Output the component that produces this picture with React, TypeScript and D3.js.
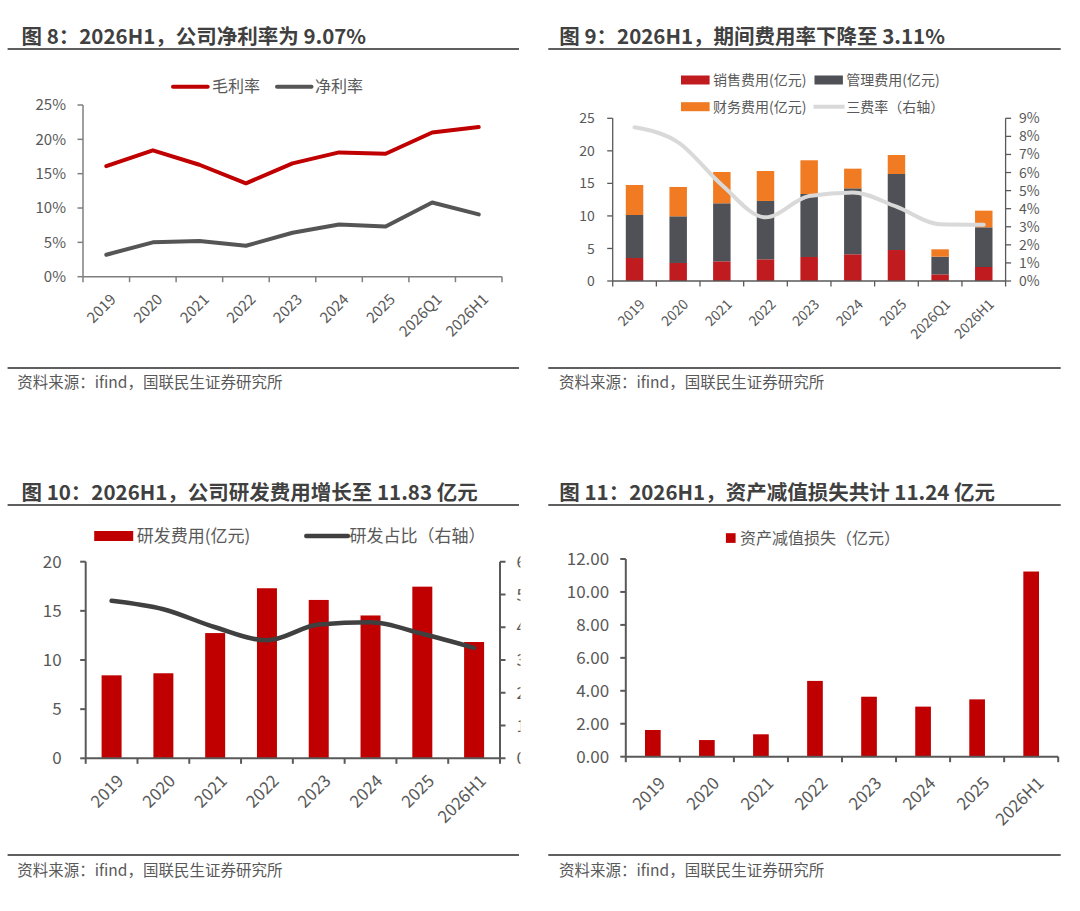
// 四图联排：利润率 / 期间费用 / 研发费用 / 资产减值
import React from 'react';
import * as d3 from 'd3';

const FONT = '"Noto Sans CJK SC", "Noto Sans", sans-serif';
const TEXT = '#595959';

// 图8 数据
const periods9 = ['2019', '2020', '2021', '2022', '2023', '2024', '2025', '2026Q1', '2026H1'];
const grossMargin = [16.1, 18.4, 16.3, 13.6, 16.5, 18.1, 17.9, 21.0, 21.8];
const netMargin = [3.2, 5.0, 5.2, 4.5, 6.4, 7.6, 7.3, 10.8, 9.07];
const marginTicks = [0, 5, 10, 15, 20, 25];

// 图9 数据
const salesExp = [3.53, 2.77, 3.02, 3.33, 3.69, 4.10, 4.76, 1.02, 2.15];
const adminExp = [6.61, 7.17, 8.92, 8.97, 9.68, 10.14, 11.68, 2.72, 6.10];
const finExp = [4.61, 4.51, 4.81, 4.60, 5.18, 3.02, 2.92, 1.13, 2.56];
const expRate = [8.5, 7.67, 5.31, 3.52, 4.7, 4.9, 4.11, 3.14, 3.11];
const expTicks = [0, 5, 10, 15, 20, 25];
const rateTicks = [0, 1, 2, 3, 4, 5, 6, 7, 8, 9];

// 图10 数据
const periods8 = ['2019', '2020', '2021', '2022', '2023', '2024', '2025', '2026H1'];
const rdExp = [8.44, 8.65, 12.74, 17.30, 16.11, 14.53, 17.46, 11.83];
const rdRatio = [4.81, 4.55, 4.0, 3.6, 4.08, 4.15, 3.8, 3.37];
const rdTicks = [0, 5, 10, 15, 20];
const rdRatioTicks = [0, 1, 2, 3, 4, 5, 6];

// 图11 数据
const impairment = [1.62, 1.01, 1.36, 4.60, 3.64, 3.04, 3.48, 11.24];
const impTicks = [0, 2, 4, 6, 8, 10, 12];

const titles = [
  '图 8：2026H1，公司净利率为 9.07%',
  '图 9：2026H1，期间费用率下降至 3.11%',
  '图 10：2026H1，公司研发费用增长至 11.83 亿元',
  '图 11：2026H1，资产减值损失共计 11.24 亿元',
];
const source = '资料来源：ifind，国联民生证券研究所';

type Band = d3.ScaleBand<string>;
type Lin = d3.ScaleLinear<number, number>;

const cx = (x: Band, d: string) => (x(d) as number) + x.bandwidth() / 2;

const Frame = ({ left, top, title }: { left: boolean; top: boolean; title: string }) => {
  const x0 = left ? 7.6 : 548.3;
  const x1 = left ? 519 : 1060.7;
  const tx = left ? 21.5 : 559.3;
  const ty = top ? 43.5 : 500;
  const ly = top ? 49 : 505;
  const fy = top ? 368 : 855;
  const sy = top ? 388 : 876;
  return (
    <g>
      <text x={tx} y={ty} fontSize={20.5} fontWeight="bold" fill="#404040">{title}</text>
      <line x1={x0} x2={x1} y1={ly} y2={ly} stroke="#5f5f5f" strokeWidth={2} />
      <line x1={x0} x2={x1} y1={fy} y2={fy} stroke="#5f5f5f" strokeWidth={2} />
      <text x={left ? 17.3 : 559} y={sy} fontSize={15.5} fill={TEXT}>{source}</text>
    </g>
  );
};

const LeftAxis = ({ y, x0, ticks, fmt, size, labelX, stroke, sw }:
  { y: Lin; x0: number; ticks: number[]; fmt: (v: number) => string; size: number; labelX: number; stroke: string; sw: number }) => (
  <g>
    <line x1={x0} x2={x0} y1={y(ticks[0])} y2={y(ticks[ticks.length - 1])} stroke={stroke} strokeWidth={sw} />
    {ticks.map(t => (
      <g key={t}>
        <line x1={x0 - 5.5} x2={x0} y1={y(t)} y2={y(t)} stroke={stroke} strokeWidth={sw} />
        <text x={labelX} y={y(t)} dy="0.36em" textAnchor="end" fontSize={size} fill={TEXT}>{fmt(t)}</text>
      </g>
    ))}
  </g>
);

const RightAxis = ({ y, x0, ticks, fmt, size, labelX, stroke, sw }:
  { y: Lin; x0: number; ticks: number[]; fmt: (v: number) => string; size: number; labelX: number; stroke: string; sw: number }) => (
  <g>
    <line x1={x0} x2={x0} y1={y(ticks[0])} y2={y(ticks[ticks.length - 1])} stroke={stroke} strokeWidth={sw} />
    {ticks.map(t => (
      <g key={t}>
        <line x1={x0} x2={x0 + 5.5} y1={y(t)} y2={y(t)} stroke={stroke} strokeWidth={sw} />
        <text x={labelX} y={y(t)} dy="0.36em" textAnchor="start" fontSize={size} fill={TEXT}>{fmt(t)}</text>
      </g>
    ))}
  </g>
);

const BandAxis = ({ x, y0, size, dx, dy, stroke, sw }:
  { x: Band; y0: number; size: number; dx: number; dy: number; stroke: string; sw: number }) => {
  const [r0, r1] = x.range();
  const n = x.domain().length;
  return (
    <g>
      <line x1={r0} x2={r1} y1={y0} y2={y0} stroke={stroke} strokeWidth={sw} />
      {d3.range(n + 1).map(i => (
        <line key={i} x1={r0 + i * x.step()} x2={r0 + i * x.step()} y1={y0} y2={y0 + 5.5} stroke={stroke} strokeWidth={sw} />
      ))}
      {x.domain().map(d => (
        <text key={d} transform={`translate(${cx(x, d) + dx},${y0 + dy}) rotate(-45)`} dy="0.72em"
          textAnchor="end" fontSize={size} fill={TEXT}>{d}</text>
      ))}
    </g>
  );
};

// 图8
const MarginChart = () => {
  const x = d3.scaleBand<string>().domain(periods9).range([83, 502]);
  const y = d3.scaleLinear().domain([0, 25]).range([276.7, 105]);
  const line = d3.line<number>().x((_, i) => cx(x, periods9[i])).y(d => y(d));
  return (
    <g>
      <LeftAxis y={y} x0={83} ticks={marginTicks} fmt={v => `${v}%`} size={15} labelX={66} stroke="#7f7f7f" sw={1.5} />
      <BandAxis x={x} y0={y(0)} size={15} dx={3} dy={16} stroke="#7f7f7f" sw={1.5} />
      <path d={line(grossMargin) ?? ''} fill="none" stroke="#C00000" strokeWidth={4} strokeLinejoin="round" strokeLinecap="round" />
      <path d={line(netMargin) ?? ''} fill="none" stroke="#555555" strokeWidth={4} strokeLinejoin="round" strokeLinecap="round" />
      <line x1={173} x2={207.7} y1={86.7} y2={86.7} stroke="#C00000" strokeWidth={4} strokeLinecap="round" />
      <text x={212} y={86.7} dy="0.36em" fontSize={16} fill={TEXT}>毛利率</text>
      <line x1={277} x2={311.5} y1={86.7} y2={86.7} stroke="#555555" strokeWidth={4} strokeLinecap="round" />
      <text x={315} y={86.7} dy="0.36em" fontSize={16} fill={TEXT}>净利率</text>
    </g>
  );
};

// 图9
const ExpenseChart = () => {
  const x = d3.scaleBand<string>().domain(periods9).range([612.7, 1005.6]);
  const y = d3.scaleLinear().domain([0, 25]).range([281, 118.3]);
  const yr = d3.scaleLinear().domain([0, 9]).range([281, 118.3]);
  const bw = x.step() * 0.4;
  const stack = d3.stack<number>().keys(['s', 'a', 'f']).value((i, k) =>
    k === 's' ? salesExp[i] : k === 'a' ? adminExp[i] : finExp[i]);
  const series = stack(d3.range(periods9.length));
  const colors = ['#C01B1E', '#4F5156', '#F07B22'];
  const line = d3.line<number>().x((_, i) => cx(x, periods9[i])).y(d => yr(d)).curve(d3.curveMonotoneX);
  return (
    <g>
      {series.map((s, k) => s.map((d, i) => (
        <rect key={`${k}-${i}`} x={cx(x, periods9[i]) - bw / 2} y={y(d[1])} width={bw} height={y(d[0]) - y(d[1])} fill={colors[k]} />
      )))}
      <LeftAxis y={y} x0={612.7} ticks={expTicks} fmt={v => `${v}`} size={14} labelX={594.7} stroke="#595959" sw={1.3} />
      <RightAxis y={yr} x0={1005.6} ticks={rateTicks} fmt={v => `${v}%`} size={14} labelX={1019} stroke="#595959" sw={1.3} />
      <BandAxis x={x} y0={y(0)} size={14} dx={4} dy={17} stroke="#595959" sw={1.3} />
      <path d={line(expRate) ?? ''} fill="none" stroke="#D9D9D9" strokeWidth={4} strokeLinecap="round" />
      <rect x={681} y={75.5} width={28.6} height={9} fill={colors[0]} />
      <text x={713} y={80} dy="0.36em" fontSize={14} fill={TEXT}>销售费用(亿元)</text>
      <rect x={814.5} y={75.5} width={28.4} height={9} fill={colors[1]} />
      <text x={846.3} y={80} dy="0.36em" fontSize={14} fill={TEXT}>管理费用(亿元)</text>
      <rect x={681} y={102.2} width={28.6} height={9} fill={colors[2]} />
      <text x={713} y={106.7} dy="0.36em" fontSize={14} fill={TEXT}>财务费用(亿元)</text>
      <line x1={813.5} x2={844.6} y1={106.7} y2={106.7} stroke="#D9D9D9" strokeWidth={4} />
      <text x={846.3} y={106.7} dy="0.36em" fontSize={14} fill={TEXT}>三费率（右轴）</text>
    </g>
  );
};

// 图10
const RdChart = () => {
  const x = d3.scaleBand<string>().domain(periods8).range([85.7, 500]);
  const y = d3.scaleLinear().domain([0, 20]).range([758.3, 561.7]);
  const yr = d3.scaleLinear().domain([0, 6]).range([758.3, 561.7]);
  const bw = x.step() * 0.386;
  const line = d3.line<number>().x((_, i) => cx(x, periods8[i])).y(d => yr(d)).curve(d3.curveMonotoneX);
  return (
    <g>
      <defs>
        <clipPath id="rdClip"><rect x={0} y={520} width={520.5} height={300} /></clipPath>
      </defs>
      {rdExp.map((v, i) => (
        <rect key={i} x={cx(x, periods8[i]) - bw / 2} y={y(v)} width={bw} height={y(0) - y(v)} fill="#C00000" />
      ))}
      <LeftAxis y={y} x0={85.7} ticks={rdTicks} fmt={v => `${v}`} size={17} labelX={61.7} stroke="#595959" sw={2} />
      <g clipPath="url(#rdClip)">
        <RightAxis y={yr} x0={500} ticks={rdRatioTicks} fmt={v => `${v}%`} size={17} labelX={516.5} stroke="#595959" sw={2} />
      </g>
      <BandAxis x={x} y0={y(0)} size={17} dx={4.4} dy={15} stroke="#595959" sw={2} />
      <path d={line(rdRatio) ?? ''} fill="none" stroke="#404040" strokeWidth={4.5} strokeLinecap="round" />
      <rect x={94.2} y={531} width={39} height={10} fill="#C00000" />
      <text x={136.7} y={536} dy="0.36em" fontSize={17} fill={TEXT}>研发费用(亿元)</text>
      <line x1={306.3} x2={347.9} y1={536} y2={536} stroke="#404040" strokeWidth={4.5} strokeLinecap="round" />
      <text x={349.6} y={536} dy="0.36em" fontSize={17} fill={TEXT}>研发占比（右轴）</text>
    </g>
  );
};

// 图11
const ImpairmentChart = () => {
  const x = d3.scaleBand<string>().domain(periods8).range([625.8, 1058.2]);
  const y = d3.scaleLinear().domain([0, 12]).range([756.7, 559]);
  const bw = x.step() * 0.29;
  return (
    <g>
      {impairment.map((v, i) => (
        <rect key={i} x={cx(x, periods8[i]) - bw / 2} y={y(v)} width={bw} height={y(0) - y(v)} fill="#C00000" />
      ))}
      <LeftAxis y={y} x0={625.8} ticks={impTicks} fmt={v => v.toFixed(2)} size={17} labelX={609.2} stroke="#595959" sw={2} />
      <BandAxis x={x} y0={y(0)} size={17} dx={5} dy={19} stroke="#595959" sw={2} />
      <rect x={725.9} y={533.2} width={9.7} height={9.7} fill="#C00000" />
      <text x={740} y={538} dy="0.36em" fontSize={16} fill={TEXT}>资产减值损失（亿元）</text>
    </g>
  );
};

export default function App() {
  return (
    <svg width={1080} height={911} viewBox="0 0 1080 911" fontFamily={FONT}
      style={{ position: 'absolute', left: 0, top: 0, background: '#fff' }}>
      <rect width={1080} height={911} fill="#fff" />
      <Frame left top title={titles[0]} />
      <Frame left={false} top title={titles[1]} />
      <Frame left top={false} title={titles[2]} />
      <Frame left={false} top={false} title={titles[3]} />
      <MarginChart />
      <ExpenseChart />
      <RdChart />
      <ImpairmentChart />
    </svg>
  );
}
